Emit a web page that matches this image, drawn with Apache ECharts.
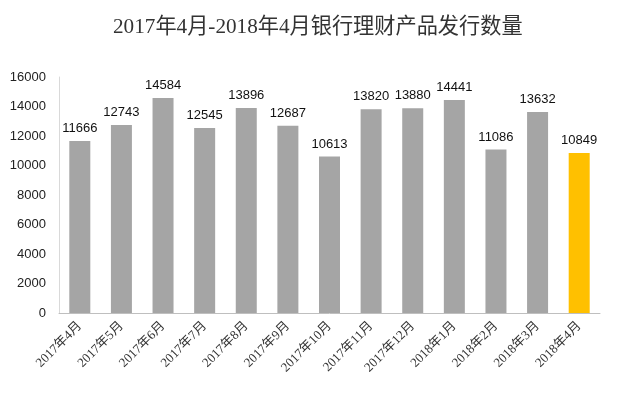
<!DOCTYPE html>
<html><head><meta charset="utf-8">
<script src="https://cdn.jsdelivr.net/npm/echarts@6/dist/echarts.min.js"></script>
<style>html,body{margin:0;padding:0;background:#fff}#c{width:640px;height:396px}</style>
</head><body><div id="c"></div>
<script>
const title = '2017年4月-2018年4月银行理财产品发行数量';
const categories = ['2017年4月','2017年5月','2017年6月','2017年7月','2017年8月','2017年9月','2017年10月','2017年11月','2017年12月','2018年1月','2018年2月','2018年3月','2018年4月'];
const values = [11666,12743,14584,12545,13896,12687,10613,13820,13880,14441,11086,13632,10849];
const highlightIndex = 12;
const chart = echarts.init(document.getElementById('c'));
chart.setOption({
  animation:false,
  title:{text:title,left:108,top:12,textStyle:{fontFamily:'"Liberation Serif","Noto Sans CJK SC",serif',fontSize:21.2,fontWeight:'normal',color:'#333'}},
  grid:{left:59,right:40,top:77,bottom:83,containLabel:false},
  xAxis:{type:'category',data:categories,
    axisLine:{lineStyle:{color:'#bfbfbf'}},axisTick:{show:false},
    axisLabel:{rotate:45,interval:0,fontSize:13,color:'#333',fontFamily:'"Liberation Serif","Noto Sans CJK SC",serif',margin:11}},
  yAxis:{type:'value',min:0,max:16000,interval:2000,
    axisLine:{show:true,lineStyle:{color:'#d9d9d9'}},splitLine:{show:false},axisTick:{show:false},
    axisLabel:{fontSize:13,color:'#222',fontFamily:'"Liberation Sans",Arial,sans-serif',margin:13,formatter:v=>String(v)}},
  series:[{type:'bar',barWidth:21,
    data:values.map((v,i)=>({value:v,itemStyle:{color:i===highlightIndex?'#ffc000':'#a5a5a5'}})),
    label:{show:true,position:'top',distance:6,fontSize:13,color:'#111',fontFamily:'"Liberation Sans",Arial,sans-serif'}}]
});
</script></body></html>
